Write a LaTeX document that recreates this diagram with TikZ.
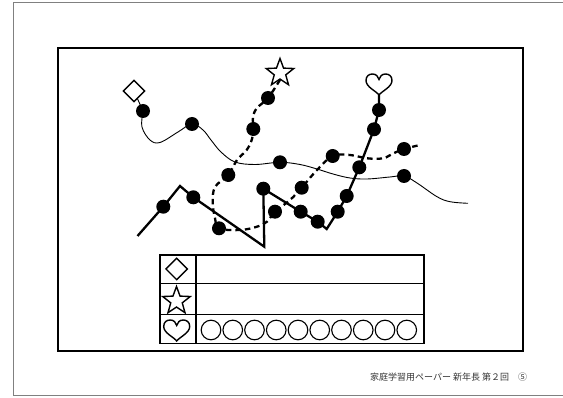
\documentclass[tikz,border=0pt]{standalone}
\usepackage{fontspec}
\newfontfamily\jpfont{Noto Sans CJK JP}
\usetikzlibrary{shapes.geometric}
\begin{document}
\begin{tikzpicture}[x=1pt,y=-1pt,
  dot/.style={circle,fill=black,inner sep=0pt,minimum size=14pt},
  ring/.style={circle,draw,line width=1.1pt,inner sep=0pt,minimum size=19.6pt},
  dia/.style={diamond,draw,line width=1.4pt,inner sep=0pt,minimum size=22pt},
  starsym/.style={star,star points=5,star point ratio=2.4,draw,line width=1.4pt,inner sep=0pt,minimum size=29pt},
  thinline/.style={line width=0.9pt},
  dashline/.style={line width=2.3pt,dash pattern=on 5.5pt off 4pt},
  thickline/.style={line width=2.3pt},
  frameline/.style={line width=2.2pt},
  tblline/.style={line width=1.6pt},
  heart/.pic={\draw[line width=1.4pt] (0,0) .. controls (-3,-4) and (-13,-8) .. (-13,-14.5)
      .. controls (-13,-19) and (-10,-21) .. (-6.5,-21)
      .. controls (-3,-21) and (-0.5,-18.5) .. (0,-15.5)
      .. controls (0.5,-18.5) and (3,-21) .. (6.5,-21)
      .. controls (10,-21) and (13,-19) .. (13,-14.5)
      .. controls (13,-8) and (3,-4) .. (0,0) -- cycle;}
]
\useasboundingbox (0,0) rectangle (563,398);
% outer page border
\draw[gray,line width=1pt] (563,3) -- (13,3) -- (13,395.7) -- (563,395.7);
% inner frame
\draw[frameline] (58,48.3) rectangle (523,351);

% symbols on map
\node[dia] (dm) at (134,91) {};
\node[starsym] (st) at (280,73) {};
\coordinate (h1) at (379,95);
\pic at (h1) {heart};

% dot positions
\coordinate (d1) at (143,111);
\coordinate (d2) at (192,124);
\coordinate (d3) at (280,162.3);
\coordinate (d4) at (404,176);
\coordinate (s1) at (268,98);
\coordinate (s2) at (253.3,129);
\coordinate (s3) at (228.3,175);
\coordinate (s4) at (219,228.3);
\coordinate (s5) at (275,211.7);
\coordinate (s6) at (301.7,187.7);
\coordinate (s7) at (332.7,156);
\coordinate (s8) at (404,149);
\coordinate (z1) at (163.3,206.7);
\coordinate (z2) at (193.3,197.3);
\coordinate (z3) at (263.3,188.7);
\coordinate (z4) at (300.7,211.7);
\coordinate (z5) at (317.7,221.7);
\coordinate (z6) at (337.7,211.7);
\coordinate (z7) at (346.7,196);
\coordinate (z8) at (359.3,167.3);
\coordinate (z9) at (374,129.3);
\coordinate (z10) at (379,110);
% free ends and corners
\coordinate (tend) at (468,203.3);
\coordinate (send) at (420,145);
\coordinate (zs) at (137.5,236);
\coordinate (zp) at (180,186);
\coordinate (zb) at (264.3,246.7);
\coordinate (zc) at (326.7,229);

% thin solid curve (diamond)
\draw[thinline] (dm) -- (d1);
\draw[thinline] plot[smooth,tension=0.6] coordinates {(d1) (142,127) (150,140) (160,142.5) (178,132) (d2) (203,130) (211,140) (221,152) (235,162) (255,164.5) (d3) (300,164.5) (317,169) (333,174) (350,178) (367,179) (390,177) (d4) (417,183) (437,196.7) (450,201.7) (tend)};

% dashed curve (star)
\draw[dashline] plot[smooth,tension=0.6] coordinates {(st.south) (s1) (257,108) (253,117) (s2) (252,139) (246.7,150) (237,160) (s3) (215,187) (212.7,203) (215,218) (s4) (240,230) (257,226.7) (267,221.7) (s5) (290,200) (s6) (317,170) (s7) (350,155) (367,158.3) (383,158.3) (393,153.5) (s8) (send)};

% thick zigzag (heart)
\draw[thickline] (zs) -- (z1) -- (zp) -- (z2) -- (zb) -- (z3) -- (z4) -- (z5) -- (zc) -- (z6) -- (z7) -- (z8) -- (z9) -- (z10) -- (h1);

% dots
\foreach \p in {d1,d2,d3,d4,s1,s2,s3,s4,s5,s6,s7,s8,z1,z2,z3,z4,z5,z6,z7,z8,z9,z10}
  \node[dot] (D\p) at (\p) {};

% table
\draw[tblline] (160,255) rectangle (424,343.5);
\draw[tblline] (160,283.5) -- (424,283.5);
\draw[tblline] (160,314.5) -- (424,314.5);
\draw[tblline] (196,255) -- (196,343.5);
\node[dia] (tdm) at (176.7,269) {};
\node[starsym] (tst) at (176.5,301) {};
\coordinate (th) at (176.7,341);
\pic at (th) {heart};
\foreach \i in {0,...,9}
  \node[ring] (c\i) at ({211+21.75*\i},330) {};

% footer
\node[anchor=west,inner sep=0pt,text=black!80,font=\jpfont\fontsize{9}{10}\selectfont] (ft) at (370,377.5) {家庭学習用ペーパー 新年長 第２回　⑤};
\end{tikzpicture}
\end{document}
